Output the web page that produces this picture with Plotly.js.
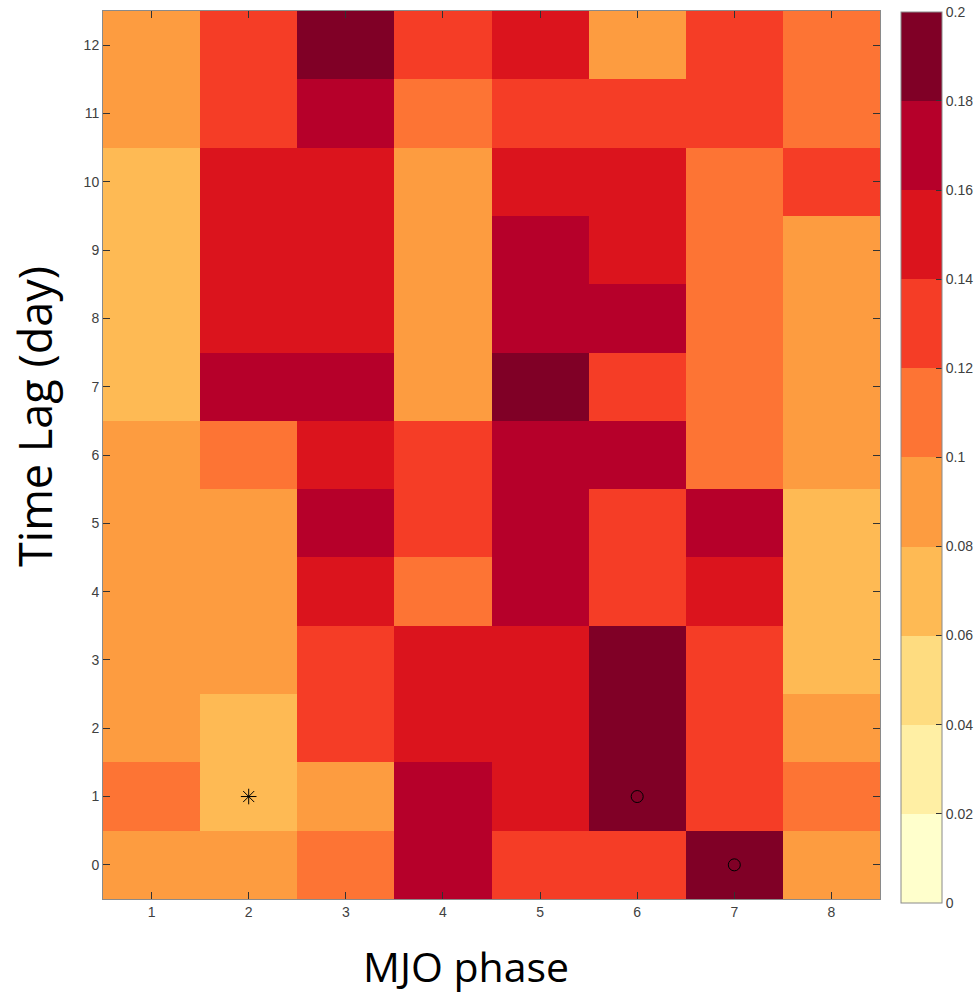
<!DOCTYPE html>
<html>
<head>
<meta charset="utf-8">
<script src="https://cdn.plot.ly/plotly-3.0.1.min.js"></script>
<style>
  html, body { margin: 0; padding: 0; background: #fff; }
  #chart { width: 975px; height: 996px; }
</style>
</head>
<body>
<div id="chart"></div>
<script>
// MJO phases (columns) and time lags in days (rows)
const phases = [1, 2, 3, 4, 5, 6, 7, 8];
const lags = [0, 1, 2, 3, 4, 5, 6, 7, 8, 9, 10, 11, 12];

// Value per lag (row, lag 0 first), one entry per MJO phase 1..8
const lag0  = [0.09, 0.09, 0.11, 0.17, 0.13, 0.13, 0.19, 0.09];
const lag1  = [0.11, 0.07, 0.09, 0.17, 0.15, 0.19, 0.13, 0.11];
const lag2  = [0.09, 0.07, 0.13, 0.15, 0.15, 0.19, 0.13, 0.09];
const lag3  = [0.09, 0.09, 0.13, 0.15, 0.15, 0.19, 0.13, 0.07];
const lag4  = [0.09, 0.09, 0.15, 0.11, 0.17, 0.13, 0.15, 0.07];
const lag5  = [0.09, 0.09, 0.17, 0.13, 0.17, 0.13, 0.17, 0.07];
const lag6  = [0.09, 0.11, 0.15, 0.13, 0.17, 0.17, 0.11, 0.09];
const lag7  = [0.07, 0.17, 0.17, 0.09, 0.19, 0.13, 0.11, 0.09];
const lag8  = [0.07, 0.15, 0.15, 0.09, 0.17, 0.17, 0.11, 0.09];
const lag9  = [0.07, 0.15, 0.15, 0.09, 0.17, 0.15, 0.11, 0.09];
const lag10 = [0.07, 0.15, 0.15, 0.09, 0.15, 0.15, 0.11, 0.13];
const lag11 = [0.09, 0.13, 0.17, 0.11, 0.13, 0.13, 0.13, 0.11];
const lag12 = [0.09, 0.13, 0.19, 0.13, 0.15, 0.09, 0.13, 0.11];

// Highlighted cells
const starPhase = [2];
const starLag = [1];
const circlePhase = [6, 7];
const circleLag = [1, 0];

// Colour bar levels and labels
const levelTicks = [0, 0.02, 0.04, 0.06, 0.08, 0.1, 0.12, 0.14, 0.16, 0.18, 0.2];
const levelLabels = ['0', '0.02', '0.04', '0.06', '0.08', '0.1', '0.12', '0.14', '0.16', '0.18', '0.2'];

// Ten-step yellow-orange-red palette
const levelColors = ['#ffffcc', '#ffefa4', '#fedc80', '#feba54', '#fd9c40',
                     '#fd7434', '#f53d26', '#db141d', '#b6002a', '#800026'];

const z = [lag0, lag1, lag2, lag3, lag4, lag5, lag6, lag7, lag8, lag9, lag10, lag11, lag12];

// Build a stepped colour scale so each 0.02 band is a flat colour
const colorscale = [];
levelColors.forEach((c, i) => {
  colorscale.push([i / levelColors.length, c]);
  colorscale.push([(i + 1) / levelColors.length, c]);
});

const labelFont = { family: 'Liberation Sans, Arial, sans-serif', size: 14, color: '#404040' };
const titleFont = { family: 'Open Sans, Liberation Sans, sans-serif', color: '#000' };

const heat = {
  type: 'heatmap',
  x: phases,
  y: lags,
  z: z,
  zmin: 0,
  zmax: 0.2,
  colorscale: colorscale,
  xgap: 0,
  ygap: 0,
  hoverinfo: 'x+y+z',
  colorbar: {
    x: 1.0270,
    xanchor: 'left',
    xpad: 0,
    y: 0.999,
    yanchor: 'top',
    ypad: 0,
    len: 891,
    lenmode: 'pixels',
    thickness: 41,
    thicknessmode: 'pixels',
    outlinewidth: 1,
    outlinecolor: '#8a8a8a',
    tickmode: 'array',
    tickvals: levelTicks,
    ticktext: levelLabels,
    ticks: 'inside',
    ticklen: 6,
    tickwidth: 1,
    tickcolor: '#333333',
    tickfont: labelFont
  }
};

const stars = {
  type: 'scatter',
  mode: 'markers',
  x: starPhase,
  y: starLag,
  marker: { symbol: 'asterisk-open', size: 13, color: '#000', line: { color: '#000', width: 1 } },
  hoverinfo: 'skip',
  showlegend: false
};

const circles = {
  type: 'scatter',
  mode: 'markers',
  x: circlePhase,
  y: circleLag,
  marker: { symbol: 'circle-open', size: 12, color: '#000', line: { color: '#000', width: 1 } },
  hoverinfo: 'skip',
  showlegend: false
};

const axisCommon = {
  showgrid: false,
  zeroline: false,
  showline: true,
  linecolor: '#8a8a8a',
  linewidth: 1,
  mirror: 'ticks',
  ticks: 'inside',
  ticklen: 7,
  tickwidth: 1,
  tickcolor: '#333333',
  tickfont: labelFont
};

const layout = {
  width: 975,
  height: 996,
  margin: { l: 103, r: 95, t: 11, b: 97, autoexpand: false },
  paper_bgcolor: '#ffffff',
  plot_bgcolor: '#ffffff',
  showlegend: false,
  xaxis: Object.assign({}, axisCommon, {
    range: [0.5, 8.5],
    tickmode: 'array',
    tickvals: phases,
    ticktext: phases.map(String)
  }),
  yaxis: Object.assign({}, axisCommon, {
    range: [-0.5, 12.5],
    tickmode: 'array',
    tickvals: lags,
    ticktext: lags.map(String)
  }),
  annotations: [
    {
      text: 'MJO phase',
      xref: 'paper', yref: 'paper',
      x: (466 - 103) / 777, y: -(966 - 899) / 888,
      xanchor: 'center', yanchor: 'middle',
      showarrow: false,
      font: Object.assign({ size: 41 }, titleFont)
    },
    {
      text: 'Time Lag (day)',
      xref: 'paper', yref: 'paper',
      x: -(103 - 34) / 777, y: (899 - 417) / 888,
      xanchor: 'center', yanchor: 'middle',
      textangle: -90,
      showarrow: false,
      font: Object.assign({ size: 45 }, titleFont)
    }
  ]
};

Plotly.newPlot('chart', [heat, stars, circles], layout, { displayModeBar: false, staticPlot: true });
</script>
</body>
</html>
